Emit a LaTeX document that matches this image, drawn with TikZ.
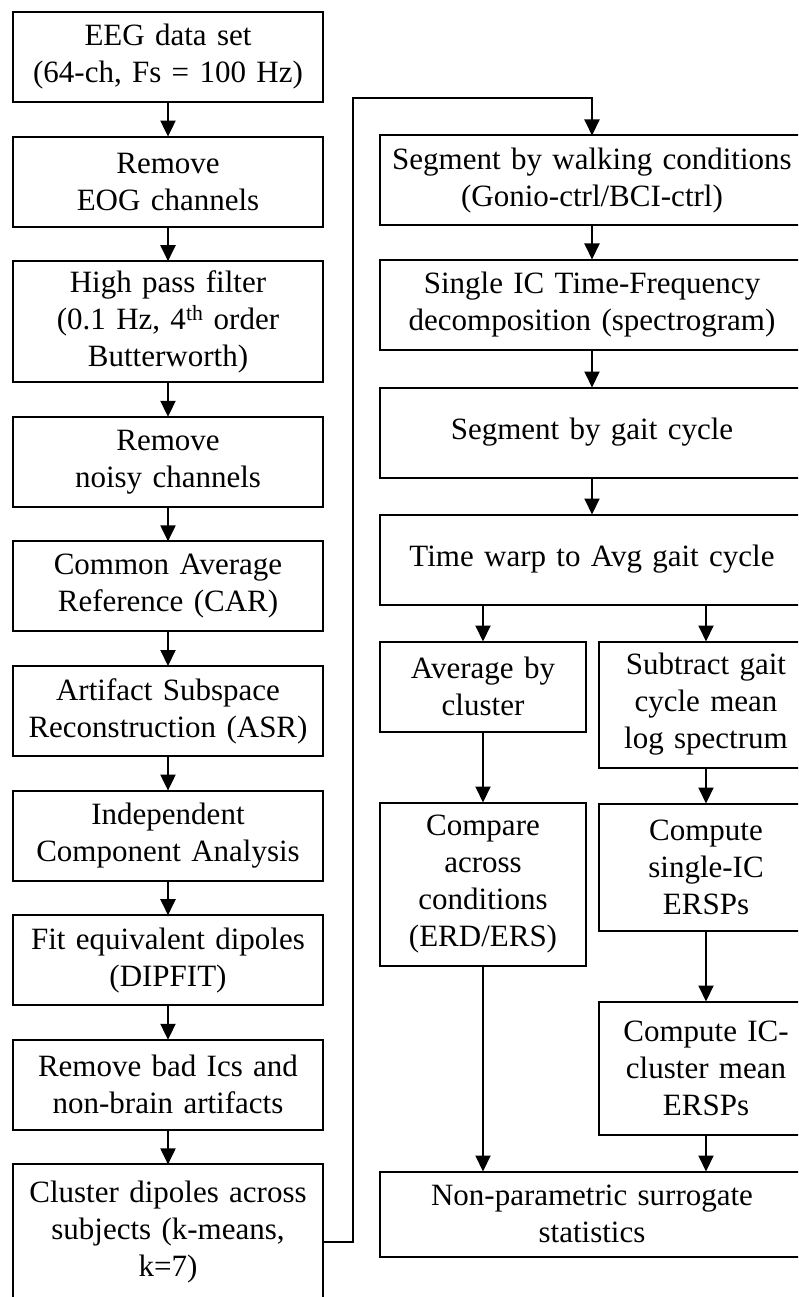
\documentclass[tikz,border=0pt]{standalone}
\usepackage{fontspec}
\setmainfont{Liberation Serif}
\usetikzlibrary{arrows.meta,positioning}
\tikzset{stage/.style={draw,line width=2pt,outer sep=0pt,text width=300pt,align=center,minimum height=90pt,inner xsep=5pt,inner ysep=0pt,font=\fontsize{31}{37}\selectfont},wide/.style={stage,text width=414pt},half/.style={stage,text width=196pt},halfr/.style={stage,text width=204pt},flow/.style={-{Triangle[length=16pt,width=15pt]},line width=2pt}}

\begin{document}
\begin{tikzpicture}[node distance=34.6pt]
\useasboundingbox (0,0) rectangle (798pt,-1297pt);
\clip (0,0) rectangle (798pt,-1297pt);
% left column
\node[stage] (eeg) at (168pt,-57pt) {EEG data set\\(64-ch, Fs = 100 Hz)};
\node[stage,below=of eeg] (eog) {Remove\\EOG channels};
\node[stage,below=of eog,minimum height=121pt] (hpf) {High pass filter\\(0.1 Hz, 4\textsuperscript{th} order\\Butterworth)};
\node[stage,below=of hpf] (noisy) {Remove\\noisy channels};
\node[stage,below=of noisy] (car) {Common Average\\Reference (CAR)};
\node[stage,below=of car] (asr) {Artifact Subspace\\Reconstruction (ASR)};
\node[stage,below=of asr] (ica) {Independent\\Component Analysis};
\node[stage,below=of ica] (dipfit) {Fit equivalent dipoles\\(DIPFIT)};
\node[stage,below=of dipfit] (badic) {Remove bad Ics and\\non-brain artifacts};
\node[stage,below=of badic,minimum height=136pt] (clus) {Cluster dipoles across\\subjects (k-means,\\k=7)};
% right column
\node[wide] (walk) at (592pt,-180.5pt) {Segment by walking conditions\\(Gonio-ctrl/BCI-ctrl)};
\node[wide,below=34pt of walk] (spec) {Single IC Time-Frequency\\decomposition (spectrogram)};
\node[wide,below=38pt of spec] (gait) {Segment by gait cycle};
\node[wide,below=37pt of gait] (warp) {Time warp to Avg gait cycle};
\node[half,below=37pt of warp.south west,anchor=north west] (avg) {Average by\\cluster};
\node[halfr,right=13pt of avg.north east,anchor=north west,minimum height=126pt] (sub) {Subtract gait\\cycle mean\\log spectrum};
\node[half,below=71pt of avg,minimum height=163pt] (cmp) {Compare\\across\\conditions\\(ERD/ERS)};
\node[halfr,below=36pt of sub,minimum height=127pt] (single) {Compute\\single-IC\\ERSPs};
\node[halfr,below=71pt of single,minimum height=133pt] (icclu) {Compute IC-\\cluster mean\\ERSPs};
\path (icclu.south) ++(0,-37pt) coordinate (statstop);
\node[wide,anchor=north,minimum height=85pt] (stats) at (warp |- statstop) {Non-parametric surrogate\\statistics};
% connectors
\draw[flow] (eeg) -- (eog);
\draw[flow] (eog) -- (hpf);
\draw[flow] (hpf) -- (noisy);
\draw[flow] (noisy) -- (car);
\draw[flow] (car) -- (asr);
\draw[flow] (asr) -- (ica);
\draw[flow] (ica) -- (dipfit);
\draw[flow] (dipfit) -- (badic);
\draw[flow] (badic) -- (clus);
\draw[flow] ([yshift=-10pt]clus.east) -- ++(30pt,0) |- ([yshift=37pt]walk.north) -- (walk.north);
\draw[flow] (walk) -- (spec);
\draw[flow] (spec) -- (gait);
\draw[flow] (gait) -- (warp);
\draw[flow] (warp.south -| avg) -- (avg);
\draw[flow] (warp.south -| sub) -- (sub);
\draw[flow] (avg) -- (cmp);
\draw[flow] (sub) -- (single);
\draw[flow] (single) -- (icclu);
\draw[flow] (cmp) -- (cmp |- stats.north);
\draw[flow] (icclu) -- (icclu |- stats.north);
\end{tikzpicture}
\end{document}
